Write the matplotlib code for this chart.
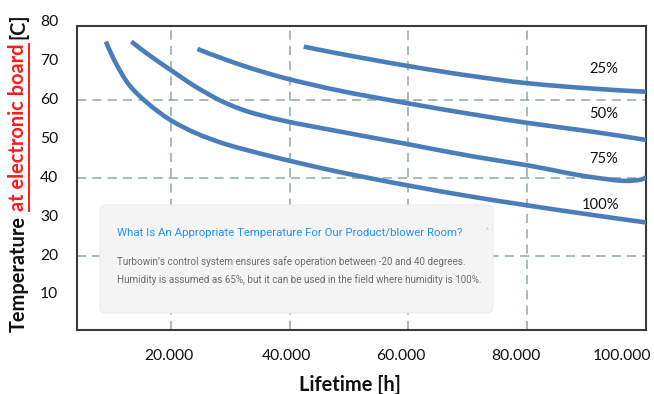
import matplotlib
matplotlib.use('Agg')
import matplotlib.pyplot as plt
import matplotlib.transforms as mtransforms
from matplotlib.patches import FancyBboxPatch, PathPatch
from matplotlib.path import Path
from matplotlib.lines import Line2D

# ---------------- data ----------------
hundred_x = [9100, 10800, 13000, 15800, 20000, 24200, 28700, 32600, 38000, 48000, 60000, 70400, 80000, 91100, 100000]
hundred_y = [75.0, 69.4, 63.9, 59.6, 54.8, 51.5, 48.9, 47.2, 45.1, 41.6, 38.0, 35.2, 32.9, 30.4, 28.5]

seventyfive_x = [13400, 16400, 20000, 24200, 28700, 32600, 38000, 48000, 60000, 70400, 80000, 91100, 96800, 99000, 100000]
seventyfive_y = [75.0, 71.5, 67.7, 63.4, 59.6, 57.2, 55.0, 52.0, 48.6, 45.6, 43.2, 40.1, 39.2, 39.5, 40.1]

fifty_x = [24500, 32600, 38000, 40000, 48000, 60000, 70400, 80000, 91100, 100000]
fifty_y = [73.1, 68.6, 66.1, 65.3, 62.5, 59.1, 56.4, 54.1, 51.8, 49.7]

twentyfive_x = [42400, 48000, 60000, 70400, 80000, 91100, 100000]
twentyfive_y = [73.7, 72.0, 68.7, 66.2, 64.3, 62.9, 62.1]

series_labels = ["25%", "50%", "75%", "100%"]
label_pos_x = [92800, 92800, 92800, 92300]
label_pos_y = [68.0, 56.3, 44.8, 33.1]

xtick_vals = [20000, 40000, 60000, 80000, 100000]
xtick_labels = ["20.000", "40.000", "60.000", "80.000", "100.000"]
ytick_vals = [10, 20, 30, 40, 50, 60, 70, 80]
ytick_labels = ["10", "20", "30", "40", "50", "60", "70", "80"]
grid_x = [20000, 40000, 60000, 80000]
grid_y = [20, 40, 60]

popup_title = "What Is An Appropriate Temperature For Our Product/blower Room?"
popup_lines = ["Turbowin\u2019s control system ensures safe operation between -20 and 40 degrees.",
               "Humidity is assumed as 65%, but it can be used in the field where humidity is 100%."]

# ---------------- figure ----------------
W, H = 654, 394
DPI = 100
fig = plt.figure(figsize=(W / DPI, H / DPI), dpi=DPI)
fig.patch.set_facecolor('white')
ax_left, ax_right, ax_top, ax_bot = 77, 646.3, 26, 329.5
ax = fig.add_axes([ax_left / W, (H - ax_bot) / H, (ax_right - ax_left) / W, (ax_bot - ax_top) / H])
renderer = fig.canvas.get_renderer()

CHART_FONT = 'Lato'
POP_FONT = 'Roboto'


def text_width(s, **kw):
    t = fig.text(0, 0, s, **kw)
    w = t.get_window_extent(renderer).width
    t.remove()
    return w


def fit_size(s, target, **kw):
    base = 10.0
    return base * target / text_width(s, fontsize=base, **kw)


def smooth_path(xs, ys):
    """Smoothed-line rendering (monotone cubic Hermite drawn as Bezier segments)."""
    n = len(xs)
    h = [xs[i + 1] - xs[i] for i in range(n - 1)]
    d = [(ys[i + 1] - ys[i]) / h[i] for i in range(n - 1)]
    m = [0.0] * n
    for k in range(1, n - 1):
        if d[k - 1] * d[k] <= 0:
            m[k] = 0.0
        else:
            w1 = 2 * h[k] + h[k - 1]
            w2 = h[k] + 2 * h[k - 1]
            m[k] = (w1 + w2) / (w1 / d[k - 1] + w2 / d[k])

    def end_slope(h0, h1, d0, d1):
        s = ((2 * h0 + h1) * d0 - h0 * d1) / (h0 + h1)
        if s * d0 <= 0:
            return 0.0
        if d0 * d1 <= 0 and abs(s) > 3 * abs(d0):
            return 3 * d0
        return s
    if n > 2:
        m[0] = end_slope(h[0], h[1], d[0], d[1])
        m[-1] = end_slope(h[-1], h[-2], d[-1], d[-2])
    else:
        m[0] = m[-1] = d[0]
    verts = [(xs[0], ys[0])]
    codes = [Path.MOVETO]
    for i in range(n - 1):
        verts += [(xs[i] + h[i] / 3, ys[i] + m[i] * h[i] / 3),
                  (xs[i + 1] - h[i] / 3, ys[i + 1] - m[i + 1] * h[i] / 3),
                  (xs[i + 1], ys[i + 1])]
        codes += [Path.CURVE4] * 3
    return Path(verts, codes)


LINE_COLOR = '#4a7ebb'
GRID_COLOR = '#8fa9a3'

ax.set_xlim(4250, 100000)
ax.set_ylim(1.0, 79.0)

for gx in grid_x:
    ax.axvline(gx, color=GRID_COLOR, lw=1.1, ls=(0, (6, 4)), zorder=0.5)
for gy in grid_y:
    ax.axhline(gy, color=GRID_COLOR, lw=1.1, ls=(0, (6, 4)), zorder=0.5)

for xs, ys in [(hundred_x, hundred_y), (seventyfive_x, seventyfive_y),
               (fifty_x, fifty_y), (twentyfive_x, twentyfive_y)]:
    pp = PathPatch(smooth_path(xs, ys), fill=False, edgecolor=LINE_COLOR, lw=3.3,
                   capstyle='butt', joinstyle='round', zorder=3)
    ax.add_patch(pp)

lab_fs = fit_size("25%", 29, family=CHART_FONT)
for s, lx, ly in zip(series_labels, label_pos_x, label_pos_y):
    ax.text(lx, ly, s, ha='center', va='center', fontsize=lab_fs,
            family=CHART_FONT, color='#111111', zorder=4)

ax.set_xticks([])
ax.set_yticks([])
for sp in ax.spines.values():
    sp.set_color('#3a3a3a')
    sp.set_linewidth(1.5)

# tick labels
tick_fs = fit_size("20.000", 49, family=CHART_FONT)
x_offsets_px = [-1.5, -3, -8, -11, -24]
xtrans = mtransforms.blended_transform_factory(ax.transData, ax.transAxes)
for v, s, dx in zip(xtick_vals, xtick_labels, x_offsets_px):
    ax.annotate(s, xy=(v, 0), xycoords=xtrans, xytext=(dx * 0.72, -26.5 * 0.72),
                textcoords='offset points', ha='center', va='center',
                fontsize=tick_fs, family=CHART_FONT, color='#111111',
                annotation_clip=False)
ytrans = mtransforms.blended_transform_factory(ax.transAxes, ax.transData)
for v, s in zip(ytick_vals, ytick_labels):
    ax.annotate(s, xy=(0, v), xycoords=ytrans, xytext=(-18.7 * 0.72, 0),
                textcoords='offset points', ha='right', va='center',
                fontsize=tick_fs, family=CHART_FONT, color='#111111',
                annotation_clip=False)

# x label
xl_fs = fit_size("Lifetime [h]", 102, family=CHART_FONT, weight='bold')
fig.text(349.5 / W, (H - 385) / H, "Lifetime [h]", ha='center', va='center',
         fontsize=xl_fs, family=CHART_FONT, weight='bold', color='#111111')

# y label (multi-coloured)
s_full = "Temperature at electronic board [C]"
yl_kw = dict(family=CHART_FONT, weight='bold')
yl_fs = fit_size(s_full, 320, **yl_kw)
kw = dict(fontsize=yl_fs, **yl_kw)
w_full = text_width(s_full, **kw)
w_at_start = text_width("Temperature at", **kw) - text_width("at", **kw)
w_board_end = text_width("Temperature at electronic board", **kw)
w_c_start = w_full - text_width("[C]", **kw)
y0 = H - 332
xc = 18.5
fig.text(xc / W, y0 / H, "Temperature", rotation=90, ha='center', va='bottom', color='#111111', **kw)
fig.text(xc / W, (y0 + w_at_start) / H, "at electronic board", rotation=90, ha='center', va='bottom',
         color='#ff1a1a', **kw)
fig.text(xc / W, (y0 + w_c_start) / H, "[C]", rotation=90, ha='center', va='bottom', color='#111111', **kw)
fig.add_artist(Line2D([29.3 / W, 29.3 / W], [(y0 + w_at_start) / H, (y0 + w_board_end) / H],
                      transform=fig.transFigure, color='#ff1a1a', lw=1.4))

# popup box
box = FancyBboxPatch((100, H - 313), 393, 108, boxstyle="round,pad=0,rounding_size=6",
                     transform=mtransforms.IdentityTransform(), facecolor='#f4f4f4',
                     edgecolor='#ececec', lw=0.8, zorder=1.5)
ax.add_patch(box)

title_fs = fit_size(popup_title, 344, family=POP_FONT)
fig.text(117 / W, (H - 233) / H, popup_title, ha='left', va='center', fontsize=title_fs,
         family=POP_FONT, color='#2196f3')
fig.text(487 / W, (H - 231) / H, "^", ha='center', va='center', fontsize=5,
         family=POP_FONT, color='#9cc8ef')
body_fs = fit_size(popup_lines[1], 366, family=POP_FONT)
for s, yy in zip(popup_lines, [262, 280]):
    fig.text(117 / W, (H - yy) / H, s, ha='left', va='center', fontsize=body_fs,
             family=POP_FONT, color='#6e6e6e')

fig.savefig('out.png', dpi=DPI)
